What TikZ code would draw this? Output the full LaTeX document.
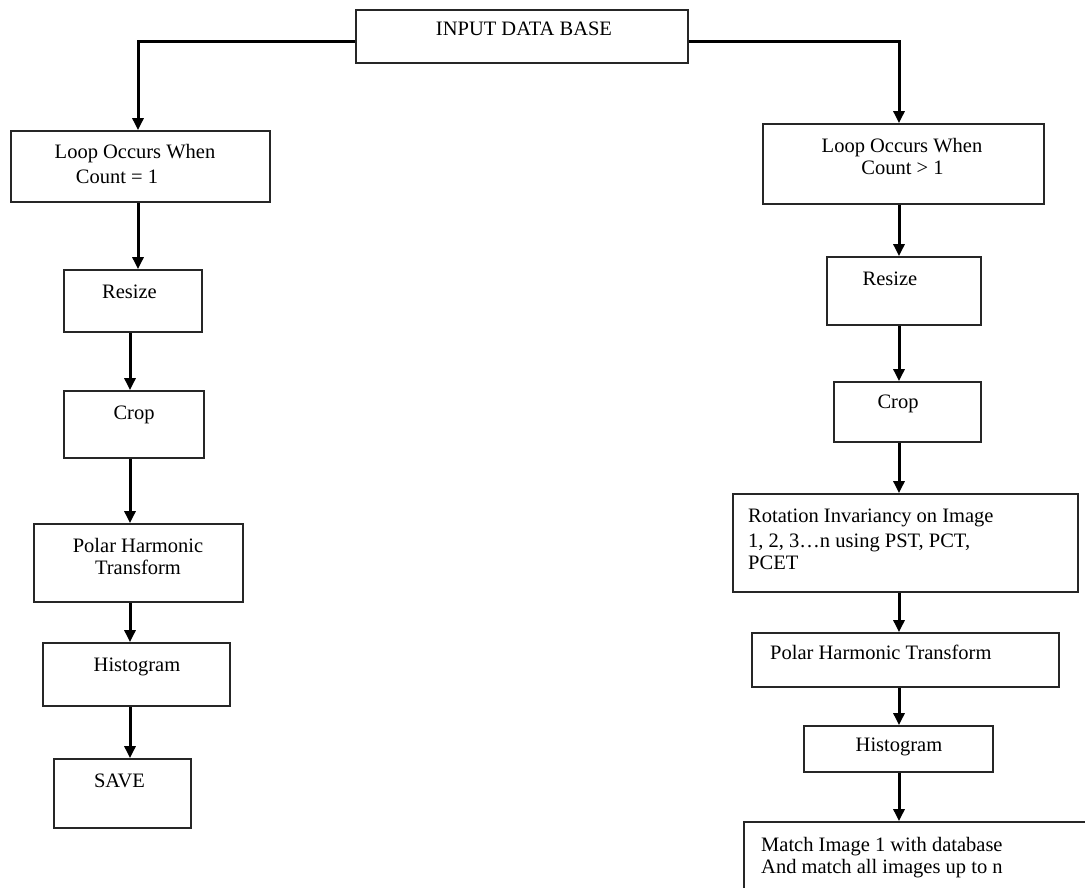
\documentclass[tikz,border=0pt]{standalone}
\usepackage{fontspec}
\setmainfont{Liberation Serif}
\usetikzlibrary{arrows.meta}
\begin{document}
\begin{tikzpicture}[x=1pt,y=-1pt,
  box/.style={draw=black!85,line width=1.8pt,rectangle,inner sep=0pt},
  txt/.style={inner sep=0pt,anchor=base,font=\fontsize{20.5}{24}\selectfont},
  ltxt/.style={txt,anchor=base west},
  arr/.style={line width=3pt,-{Triangle[width=11pt,length=12pt]}}]
\useasboundingbox (0,0) rectangle (1085,888);
% boxes
\node[box,minimum width=332pt,minimum height=53pt] (in) at (522,36.5) {};
\node[box,minimum width=259pt,minimum height=71pt] (L1) at (140.5,166.5) {};
\node[box,minimum width=138pt,minimum height=62pt] (L2) at (133,301) {};
\node[box,minimum width=140pt,minimum height=67pt] (L3) at (134,424.5) {};
\node[box,minimum width=209pt,minimum height=78pt] (L4) at (138.5,563) {};
\node[box,minimum width=187pt,minimum height=63pt] (L5) at (136.5,674.5) {};
\node[box,minimum width=137pt,minimum height=69pt] (L6) at (122.5,793.5) {};
\node[box,minimum width=281pt,minimum height=80pt] (R1) at (903.5,164) {};
\node[box,minimum width=154pt,minimum height=68pt] (R2) at (904,291) {};
\node[box,minimum width=147pt,minimum height=60pt] (R3) at (907.5,412) {};
\node[box,minimum width=345pt,minimum height=98pt] (R4) at (905.5,543) {};
\node[box,minimum width=307pt,minimum height=54pt] (R5) at (905.5,660) {};
\node[box,minimum width=189pt,minimum height=46pt] (R6) at (898.5,749) {};
\node[box,minimum width=352pt,minimum height=80pt] (R7) at (920,862) {};
% texts
\node[txt] (tin) at (524,36) {INPUT DATA BASE};
\node[txt] (tL1a) at (135,159) {Loop Occurs When};
\node[txt] (tL1b) at (117,183) {Count = 1};
\node[txt] (tL2) at (129.5,298) {Resize};
\node[txt] (tL3) at (134,419) {Crop};
\node[txt] (tL4a) at (138,552) {Polar Harmonic};
\node[txt] (tL4b) at (138,574) {Transform};
\node[txt] (tL5) at (137,671) {Histogram};
\node[txt] (tL6) at (119.5,787) {SAVE};
\node[txt] (tR1a) at (902,153) {Loop Occurs When};
\node[txt] (tR1b) at (902.5,175) {Count > 1};
\node[txt] (tR2) at (890,285) {Resize};
\node[txt] (tR3) at (898,408) {Crop};
\node[ltxt] (tR4a) at (748,522) {Rotation Invariancy on Image};
\node[ltxt] (tR4b) at (748,547) {1, 2, 3…n using PST, PCT,};
\node[ltxt] (tR4c) at (748,569) {PCET};
\node[ltxt] (tR5) at (770,659) {Polar Harmonic Transform};
\node[txt] (tR6) at (899,751) {Histogram};
\node[ltxt] (tR7a) at (761,851) {Match Image 1 with database};
\node[ltxt] (tR7b) at (761,873) {And match all images up to n};
% connector columns
\coordinate (ca) at (138,0);
\coordinate (cb) at (130,0);
\coordinate (cr) at (899,0);
% connectors
\draw[arr] ([yshift=-5.5pt]in.west) -| (L1.north -| ca);
\draw[arr] ([yshift=-5.5pt]in.east) -| (R1.north -| cr);
\draw[arr] (L1.south -| ca) -- (L2.north -| ca);
\draw[arr] (L2.south -| cb) -- (L3.north -| cb);
\draw[arr] (L3.south -| cb) -- (L4.north -| cb);
\draw[arr] (L4.south -| cb) -- (L5.north -| cb);
\draw[arr] (L5.south -| cb) -- (L6.north -| cb);
\draw[arr] (R1.south -| cr) -- (R2.north -| cr);
\draw[arr] (R2.south -| cr) -- (R3.north -| cr);
\draw[arr] (R3.south -| cr) -- (R4.north -| cr);
\draw[arr] (R4.south -| cr) -- (R5.north -| cr);
\draw[arr] (R5.south -| cr) -- (R6.north -| cr);
\draw[arr] (R6.south -| cr) -- (R7.north -| cr);
\end{tikzpicture}
\end{document}
